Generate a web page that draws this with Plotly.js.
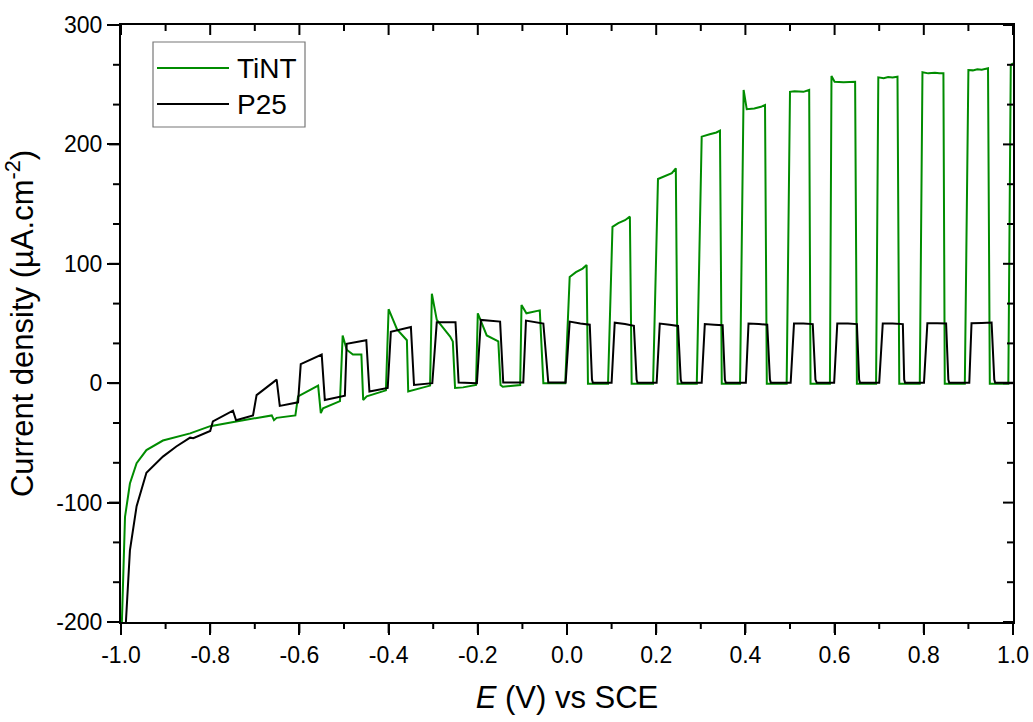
<!DOCTYPE html>
<html>
<head>
<meta charset="utf-8">
<script src="https://cdn.plot.ly/plotly-3.0.1.min.js"></script>
<style>html,body{margin:0;padding:0;background:#fff;}#chart{width:1033px;height:722px;}</style>
</head>
<body>
<div id="chart"></div>
<script>
// ---- Data ----
const seriesNames = ["TiNT", "P25"];

const tintE = [-0.998,-0.991,-0.980,-0.965,-0.943,-0.906,-0.845,-0.800,-0.726,-0.662,-0.657,-0.651,-0.609,
  -0.603,-0.558,-0.552,-0.547,-0.509,
  -0.503,-0.494,-0.480,-0.461,-0.457,-0.449,-0.406,
  -0.400,-0.381,-0.359,-0.356,-0.345,-0.307,
  -0.303,-0.292,-0.262,-0.256,-0.251,-0.233,-0.204,
  -0.200,-0.180,-0.154,-0.149,-0.144,-0.105,
  -0.102,-0.091,-0.061,-0.053,-0.004,
  0.006,0.020,0.035,0.044,0.047,
  0.092,0.102,0.115,0.130,0.141,0.145,
  0.193,0.204,0.220,0.235,0.244,0.248,
  0.291,0.302,0.320,0.335,0.343,0.347,
  0.388,0.396,0.403,0.420,0.435,0.444,0.448,
  0.4925,0.500,0.510,0.530,0.543,0.546,
  0.5895,0.593,0.600,0.620,0.635,0.646,0.650,
  0.693,0.698,0.710,0.720,0.730,0.741,0.745,
  0.791,0.797,0.810,0.825,0.835,0.844,0.847,
  0.892,0.900,0.910,0.920,0.930,0.944,0.948,
  0.9895,0.995,1.000];
const tintJ = [-200,-112,-84,-67,-56,-48,-42,-36,-31,-27,-31,-29,-27,
  -11,-2,-25,-21,-15,
  40,28,24,24,-14,-11,-6,
  62,45,36,-7,-6,-2,
  75,53,39,35,-4,-3.5,-1.5,
  58.5,40,35,-1.5,-3,-1.5,
  65.5,58.5,61,0,0,
  89,93,96,99,-0.5,
  -0.5,131,134,136.5,139.5,-0.5,
  -0.5,171,173.5,176,180,-0.5,
  -0.5,206.5,208.5,210,211.5,-0.5,
  -0.5,245.6,229.5,230,231.5,233,-0.5,
  -0.5,244,244.5,244,245.6,-0.5,
  -0.5,257.3,252.5,252,252.5,252.5,-0.5,
  -0.5,256.2,255.5,256.5,256,256.7,-0.5,
  -0.5,260.4,259.5,260,259.5,259.5,-0.5,
  -0.5,262.3,262,263,262.5,263.7,-0.5,
  -0.5,266.5,268];

const p25E = [-0.989,-0.980,-0.965,-0.943,-0.906,-0.876,-0.845,-0.838,-0.800,
  -0.794,-0.749,-0.742,-0.704,
  -0.696,-0.651,-0.644,-0.603,
  -0.597,-0.550,-0.543,-0.498,
  -0.494,-0.450,-0.443,-0.402,
  -0.395,-0.350,-0.343,-0.302,
  -0.292,-0.250,-0.243,-0.202,
  -0.193,-0.150,-0.143,-0.098,
  -0.092,-0.053,-0.042,-0.003,
  0.006,0.030,0.051,0.056,0.058,
  0.100,0.107,0.130,0.150,0.156,0.158,
  0.201,0.208,0.230,0.249,0.255,0.257,
  0.302,0.309,0.330,0.349,0.354,0.356,
  0.401,0.407,0.430,0.449,0.455,0.457,
  0.5015,0.509,0.530,0.551,0.557,0.560,
  0.599,0.606,0.630,0.650,0.655,0.657,
  0.700,0.708,0.730,0.753,0.756,0.758,
  0.8004,0.808,0.830,0.850,0.855,0.857,
  0.902,0.907,0.930,0.952,0.958,0.960,
  1.000];
const p25J = [-200,-140,-103,-75,-61.5,-53,-45.6,-46,-40,
  -32,-23,-31,-27,
  -10,3,-19,-16,
  16,24,-14,-10.5,
  33,36,-7,-4,
  43,47,-1.5,0,
  51,51,0.5,0,
  53,51.6,0.5,0.5,
  52.4,50,0.5,0.5,
  51.6,50,49,3,0.3,
  0.3,50.7,49.5,48,3,0.3,
  0.3,50,49,48,3,0.3,
  0.3,49.5,49,48.5,3,0.3,
  0.3,50,49.5,49,3,0.3,
  0.3,50,50,49.5,3,0.3,
  0.3,50,50,49.5,3,0.3,
  0.3,50,50,49.5,3,0.3,
  0.3,50.3,50.3,50,3,0.3,
  0.3,50.3,50.5,50.8,3,0.3,
  0.3];

// ---- Axis ticks ----
const xRange = [-1, 1];
const yRange = [-200, 300];
const xTickVals = [-1.0,-0.8,-0.6,-0.4,-0.2,0.0,0.2,0.4,0.6,0.8,1.0];
const xTickText = ["-1.0","-0.8","-0.6","-0.4","-0.2","0.0","0.2","0.4","0.6","0.8","1.0"];
const yTickVals = [-200,-100,0,100,200,300];
const yTickText = ["-200","-100","0","100","200","300"];
const xMinorVals = [-0.9,-0.7,-0.5,-0.3,-0.1,0.1,0.3,0.5,0.7,0.9];
const yMinorVals = [-166.667,-133.333,-66.667,-33.333,33.333,66.667,133.333,166.667,233.333,266.667];

// ---- Styling ----
const FONT = "Liberation Sans, Arial, Helvetica, sans-serif";
const GREEN = "#008c00";
const BLACK = "#000000";
const PLOT_W = 892, PLOT_H = 597;   // plot-area size in px (1033-121-20, 722-25-100)

const traces = [
  {x: tintE, y: tintJ, type: "scatter", mode: "lines", name: seriesNames[0],
   line: {color: GREEN, width: 2}, showlegend: false},
  {x: p25E, y: p25J, type: "scatter", mode: "lines", name: seriesNames[1],
   line: {color: BLACK, width: 2}, showlegend: false}
];

// tick marks drawn as paper-referenced lines (frame ticks: out on bottom/left, in on top/right)
const fx = v => (v - xRange[0]) / (xRange[1] - xRange[0]);
const fy = v => (v - yRange[0]) / (yRange[1] - yRange[0]);
const tickLine = {color: "#000", width: 2};
const xTick = (v, base, lenPx) => ({type: "line", xref: "paper", yref: "paper",
  x0: fx(v), x1: fx(v), y0: base, y1: base + lenPx / PLOT_H, line: tickLine, layer: "above"});
const yTick = (v, base, lenPx) => ({type: "line", xref: "paper", yref: "paper",
  y0: fy(v), y1: fy(v), x0: base, x1: base + lenPx / PLOT_W, line: tickLine, layer: "above"});

const tickShapes = [];
xTickVals.forEach(v => { tickShapes.push(xTick(v, 0, -11)); tickShapes.push(xTick(v, 1, -10)); });
yTickVals.forEach(v => { tickShapes.push(yTick(v, 0, -12)); tickShapes.push(yTick(v, 1, -10)); });
xMinorVals.forEach(v => { tickShapes.push(xTick(v, 0, -7)); tickShapes.push(xTick(v, 1, -6)); });
yMinorVals.forEach(v => { tickShapes.push(yTick(v, 0, -8)); tickShapes.push(yTick(v, 1, -6)); });

// legend geometry helpers (paper coordinates from pixel positions)
const px = v => (v - 121) / PLOT_W;
const py = v => (622 - v) / PLOT_H;

const tickFont = {family: FONT, size: 23, color: "#000"};

const layout = {
  width: 1033, height: 722,
  margin: {l: 121, r: 20, t: 25, b: 100},
  paper_bgcolor: "#fff", plot_bgcolor: "#fff",
  font: {family: FONT, color: "#000"},
  showlegend: false,
  xaxis: {
    range: xRange, tickmode: "array", tickvals: xTickVals, ticktext: xTickText,
    showline: true, mirror: true, linecolor: "#000", linewidth: 2, showgrid: false, zeroline: false,
    ticks: "outside", ticklen: 11, tickwidth: 2, tickcolor: "#000", tickfont: tickFont,
    title: {text: "<i>E</i> (V) vs SCE", font: {family: FONT, size: 31, color: "#000"}, standoff: 20}
  },
  yaxis: {
    range: yRange, tickmode: "array", tickvals: yTickVals, ticktext: yTickText,
    showline: true, mirror: true, linecolor: "#000", linewidth: 2, showgrid: false, zeroline: false,
    ticks: "outside", ticklen: 12, tickwidth: 2, tickcolor: "#000", tickfont: tickFont,
    title: {text: "Current density (µA.cm<sup>-2</sup>)", font: {family: FONT, size: 31, color: "#000"}, standoff: 14}
  },
  shapes: tickShapes.concat([
    {type: "rect", xref: "paper", yref: "paper", x0: px(153), x1: px(305), y0: py(127), y1: py(42),
     line: {color: "#777", width: 1.2}, fillcolor: "rgba(255,255,255,1)", layer: "above"},
    {type: "line", xref: "paper", yref: "paper", x0: px(157), x1: px(229), y0: py(68), y1: py(68),
     line: {color: GREEN, width: 2}, layer: "above"},
    {type: "line", xref: "paper", yref: "paper", x0: px(157), x1: px(229), y0: py(104), y1: py(104),
     line: {color: BLACK, width: 2}, layer: "above"}
  ]),
  annotations: [
    {xref: "paper", yref: "paper", x: px(235), y: py(68), xanchor: "left", yanchor: "middle",
     text: seriesNames[0], showarrow: false, font: {family: FONT, size: 28, color: "#000"}},
    {xref: "paper", yref: "paper", x: px(235), y: py(104), xanchor: "left", yanchor: "middle",
     text: seriesNames[1], showarrow: false, font: {family: FONT, size: 28, color: "#000"}}
  ]
};

Plotly.newPlot("chart", traces, layout, {displayModeBar: false});
</script>
</body>
</html>
